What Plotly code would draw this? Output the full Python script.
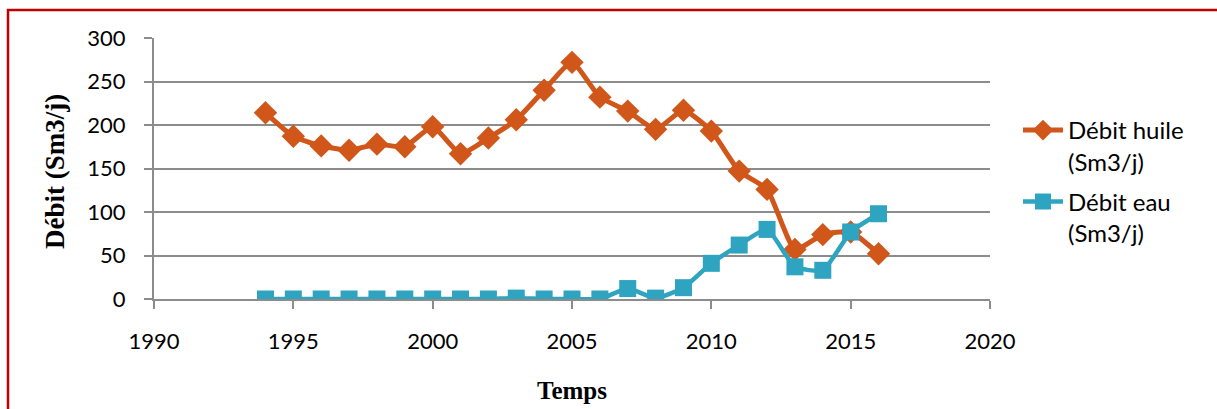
import plotly.graph_objects as go

years = [1994, 1995, 1996, 1997, 1998, 1999, 2000, 2001, 2002, 2003, 2004, 2005,
         2006, 2007, 2008, 2009, 2010, 2011, 2012, 2013, 2014, 2015, 2016]
debit_huile = [214, 187, 176, 171, 178, 175, 198, 167, 185, 206, 240, 272,
               232, 216, 195, 217, 193, 147, 126, 57, 74, 77, 52]
debit_eau = [0, 0, 0, 0, 0, 0, 0, 0, 0, 1, 0, 0,
             0, 12, 1, 13, 41, 62, 80, 37, 33, 77, 98]

series_names = ["Débit huile<br>(Sm3/j)", "Débit eau<br>(Sm3/j)"]
x_ticks = [1990, 1995, 2000, 2005, 2010, 2015, 2020]
y_ticks = [0, 50, 100, 150, 200, 250, 300]

ORANGE = "#D0561A"
BLUE = "#2EA4C1"
GRID = "#8C8C8C"

W, H = 1217, 409
L, R, T, B = 154, 990, 38, 299

def px_x(p):
    return (p - L) / (R - L)

def px_y(p):
    return (B - p) / (B - T)

fig = go.Figure()
fig.add_trace(go.Scatter(
    x=years, y=debit_huile, name=series_names[0], mode="lines+markers",
    legendgroup="huile",
    line=dict(color=ORANGE, width=5, shape="spline", smoothing=0.5),
    marker=dict(symbol="diamond", size=18, color=ORANGE),
))
fig.add_trace(go.Scatter(
    x=years, y=debit_eau, name=series_names[1], mode="lines+markers",
    legendgroup="eau",
    line=dict(color=BLUE, width=4.5, shape="spline", smoothing=0.5),
    marker=dict(symbol="square", size=17, color=BLUE),
))

fig.update_layout(
    width=W, height=H, autosize=False,
    margin=dict(l=L, r=W - R, t=T, b=H - B, pad=0),
    paper_bgcolor="white", plot_bgcolor="white",
    font=dict(family="Lato", size=22, color="black"),
    showlegend=True,
    legend=dict(
        x=px_x(1018), y=px_y(108), xanchor="left", yanchor="top",
        font=dict(family="Lato", size=24, color="black"),
        valign="top", tracegroupgap=6, itemwidth=40,
        bgcolor="rgba(0,0,0,0)",
    ),
)
fig.update_xaxes(
    range=[1990, 2020], tickvals=x_ticks, ticktext=[str(v) for v in x_ticks],
    showgrid=False, zeroline=False,
    showline=True, linecolor=GRID, linewidth=2,
    ticks="outside", ticklen=8, tickwidth=2, tickcolor=GRID,
    tickfont=dict(family="Lato", size=22, color="black"),
    ticklabelstandoff=14,
)
fig.update_yaxes(
    range=[0, 300], tickvals=y_ticks, ticktext=[str(v) for v in y_ticks],
    showgrid=True, gridcolor=GRID, gridwidth=2, zeroline=False,
    showline=True, linecolor=GRID, linewidth=2,
    ticks="outside", ticklen=8, tickwidth=2, tickcolor=GRID,
    tickfont=dict(family="Lato", size=22, color="black"),
    ticklabelstandoff=14,
)

fig.add_annotation(
    text="<b>Débit (Sm3/j)</b>", textangle=-90, showarrow=False,
    xref="paper", yref="paper", x=px_x(55), y=px_y(172),
    xanchor="center", yanchor="middle",
    font=dict(family="Liberation Serif", size=27, color="black"),
)
fig.add_annotation(
    text="<b>Temps</b>", showarrow=False,
    xref="paper", yref="paper", x=px_x(572), y=px_y(391),
    xanchor="center", yanchor="middle",
    font=dict(family="Liberation Serif", size=25, color="black"),
)

fig.add_shape(
    type="rect", xref="paper", yref="paper",
    x0=px_x(8), x1=px_x(1240), y0=px_y(440), y1=px_y(10),
    line=dict(color="#C00000", width=2.5), fillcolor="rgba(0,0,0,0)", layer="below",
)

fig.write_html("out.html")
